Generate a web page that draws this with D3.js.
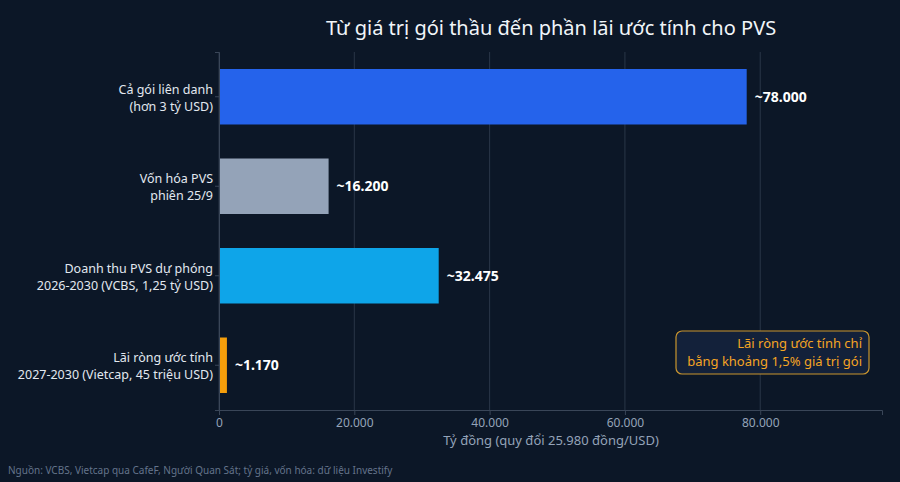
<!DOCTYPE html>
<html><head><meta charset="utf-8">
<script src="https://cdn.jsdelivr.net/npm/d3@7"></script>
<style>body{margin:0;background:#0c1727;font-family:"Noto Sans",sans-serif;}</style>
</head><body><svg id="c" width="900" height="482"></svg>
<script>
const categories = [["Cả gói liên danh","(hơn 3 tỷ USD)"],["Vốn hóa PVS","phiên 25/9"],["Doanh thu PVS dự phóng","2026-2030 (VCBS, 1,25 tỷ USD)"],["Lãi ròng ước tính","2027-2030 (Vietcap, 45 triệu USD)"]];
const values = [78000, 16200, 32475, 1170];
const valueLabels = ["~78.000","~16.200","~32.475","~1.170"];
const colors = ["#2563eb","#94a3b8","#0ea5e9","#f59e0b"];
const tickValues = [0,20000,40000,60000,80000];

const svg = d3.select("#c");
svg.append("rect").attr("width",900).attr("height",482).attr("fill","#0c1727");
const m = {l:219,r:882,t:52,b:410};
const x = d3.scaleLinear().domain([0,98000]).range([m.l,m.r]);
const y = d3.scaleBand().domain(d3.range(4)).range([m.t,m.b]).paddingInner(0.38).paddingOuter(0.19);

svg.append("g").selectAll("line").data(tickValues).join("line")
 .attr("x1",d=>x(d)).attr("x2",d=>x(d)).attr("y1",m.t).attr("y2",m.b)
 .attr("stroke","#2a3648").attr("stroke-width",1);

svg.append("text").attr("x",551).attr("y",35).attr("text-anchor","middle")
 .attr("fill","#f1f5f9").attr("font-size",20).text("Từ giá trị gói thầu đến phần lãi ước tính cho PVS");

svg.selectAll(".bar").data(values).join("rect")
 .attr("x",x(0)).attr("y",(d,i)=>y(i)).attr("width",d=>x(d)-x(0)).attr("height",y.bandwidth())
 .attr("fill",(d,i)=>colors[i]);

svg.selectAll(".vl").data(values).join("text")
 .attr("x",d=>x(d)+8).attr("y",(d,i)=>y(i)+y.bandwidth()/2+5)
 .attr("fill","#ffffff").attr("font-weight","bold").attr("font-size",14)
 .text((d,i)=>valueLabels[i]);

const xa = svg.append("g").attr("transform",`translate(0,${m.b})`)
 .call(d3.axisBottom(x).tickValues(tickValues).tickFormat(d=>d3.format(",")(d).replace(/,/g,".")).tickSize(5));
xa.select(".domain").attr("stroke","#3a4658");
xa.selectAll(".tick line").attr("stroke","#3a4658");
xa.selectAll("text").attr("fill","#94a3b8").attr("font-size",12).attr("font-family","Noto Sans");

const ya = svg.append("g").attr("transform",`translate(${m.l},0)`)
 .call(d3.axisLeft(y).tickSize(4).tickFormat(""));
ya.select(".domain").attr("stroke","#3a4658");
ya.selectAll(".tick line").attr("stroke","#3a4658");
categories.forEach((c,i)=>{
  const t = svg.append("text").attr("text-anchor","end").attr("fill","#e2e8f0").attr("font-size",12.5)
   .attr("y",y(i)+y.bandwidth()/2-3);
  t.append("tspan").attr("x",m.l-6).text(c[0]);
  t.append("tspan").attr("x",m.l-6).attr("dy",17).text(c[1]);
});

svg.append("text").attr("x",551).attr("y",445).attr("text-anchor","middle").attr("fill","#94a3b8")
 .attr("font-size",13).text("Tỷ đồng (quy đổi 25.980 đồng/USD)");

svg.append("rect").attr("x",676).attr("y",331).attr("width",193).attr("height",43).attr("rx",6)
 .attr("fill","#13213a").attr("stroke","#c9952e").attr("stroke-width",1.2);
const a = svg.append("text").attr("text-anchor","end").attr("fill","#f5a524").attr("font-size",13);
a.append("tspan").attr("x",862).attr("y",348).text("Lãi ròng ước tính chỉ");
a.append("tspan").attr("x",862).attr("y",366).text("bằng khoảng 1,5% giá trị gói");

svg.append("text").attr("x",8).attr("y",474).attr("fill","#64748b").attr("font-size",10)
 .text("Nguồn: VCBS, Vietcap qua CafeF, Người Quan Sát; tỷ giá, vốn hóa: dữ liệu Investify");
</script></body></html>
